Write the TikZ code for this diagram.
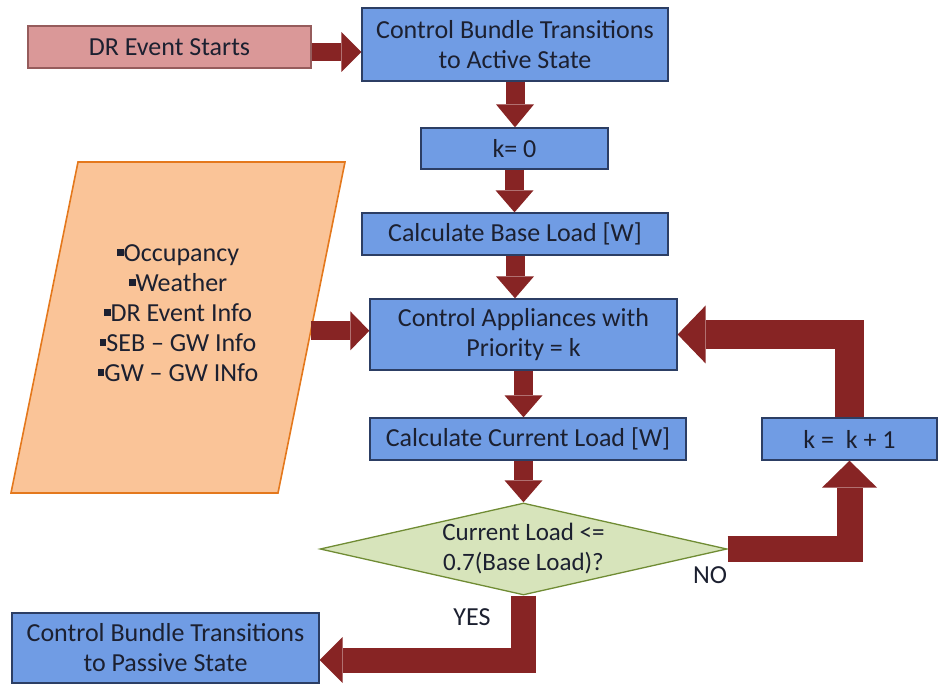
\documentclass[tikz,border=0pt]{standalone}
\usepackage{fontspec}
\setmainfont{Carlito}
\usetikzlibrary{arrows.meta,shapes.geometric,calc}

\definecolor{txt}{RGB}{28,32,48}
\definecolor{bluefill}{RGB}{112,156,228}
\definecolor{bluebd}{RGB}{44,62,100}
\definecolor{pinkfill}{RGB}{218,152,152}
\definecolor{pinkbd}{RGB}{150,92,92}
\definecolor{orangefill}{RGB}{250,196,152}
\definecolor{orangebd}{RGB}{228,120,28}
\definecolor{greenfill}{RGB}{215,228,187}
\definecolor{greenbd}{RGB}{112,140,52}
\definecolor{arrowred}{RGB}{135,36,36}

% small black square used as list bullet
\newcommand\sqbul{\rule[0.2em]{0.26em}{0.26em}}

\begin{document}
\begin{tikzpicture}[x=1pt,y=-1pt,
  font=\fontsize{26}{30}\selectfont, text=txt,
  flowbox/.style={draw=bluebd, fill=bluefill, line width=1.3pt,
    inner sep=0pt, align=center},
  blkarrow/.style n args={3}{draw=arrowred, line width=#1, line join=miter,
    -{Triangle[width=#2,length=#3,line width=0pt]}}]

\useasboundingbox (0,0) rectangle (938,684);

% process boxes
\node[flowbox, draw=pinkbd, fill=pinkfill, minimum width=283pt, minimum height=42pt]
  (dr) at (169.5,47) {DR Event Starts};
\node[flowbox, minimum width=306pt, minimum height=73pt]
  (active) at (515,44.5) {Control Bundle Transitions\\to Active State};
\node[flowbox, minimum width=187pt, minimum height=41pt]
  (k0) at (514.5,148.5) {k= 0};
\node[flowbox, minimum width=306pt, minimum height=42pt]
  (base) at (515,234) {Calculate Base Load [W]};
\node[flowbox, minimum width=307pt, minimum height=71pt]
  (ctrl) at (523.5,334.5) {Control Appliances with\\Priority = k};
\node[flowbox, minimum width=316pt, minimum height=42pt]
  (cur) at (528,439) {Calculate Current Load [W]};
\node[flowbox, minimum width=175pt, minimum height=42pt]
  (kk) at (849.5,439) {k =\ \ k + 1};
\node[flowbox, minimum width=307pt, minimum height=70pt]
  (passive) at (165.5,648) {Control Bundle Transitions\\to Passive State};

% decision
\node[diamond, draw=greenbd, fill=greenfill, line width=1.3pt, inner sep=0pt,
  minimum width=407pt, minimum height=92pt] (dia) at (523.5,549) {};
\node[align=center, font=\fontsize{25}{30}\selectfont] (diatext) at (dia.center)
  {Current Load <=\\0.7(Base Load)?};

% input data parallelogram
\coordinate (ptl) at (78,162);
\coordinate (ptr) at (345,162);
\coordinate (pbr) at (278,493);
\coordinate (pbl) at (11,493);
\draw[draw=orangebd, fill=orangefill, line width=1.6pt, line join=miter]
  (ptl) -- (ptr) -- (pbr) -- (pbl) -- cycle;
\node[align=center] (inputs) at (178,313)
  {\sqbul Occupancy\\\sqbul Weather\\\sqbul DR Event Info\\
   \sqbul SEB -- GW Info\\\sqbul GW -- GW INfo};
\coordinate (pout) at ($(ptr)!0.51!(pbr)$);

% block arrows
\draw[blkarrow={18pt}{40pt}{20pt}] ([yshift=-5pt]dr.east) -- ([yshift=-5pt]dr.east -| active.west);
\draw[blkarrow={19pt}{38pt}{23pt}] (active.south) -- (active.south |- k0.north);
\draw[blkarrow={19pt}{38pt}{22pt}] (k0.south) -- (k0.south |- base.north);
\draw[blkarrow={19pt}{38pt}{22pt}] (base.south) -- (base.south |- ctrl.north);
\draw[blkarrow={19pt}{38pt}{22pt}] (ctrl.south) -- (ctrl.south |- cur.north);
\draw[blkarrow={19pt}{38pt}{22pt}] (dia.north |- cur.south) -- (dia.north);
\draw[blkarrow={19pt}{39pt}{19pt}] (pout) -- (pout -| ctrl.west);
\draw[blkarrow={26pt}{55pt}{27pt}] (dia.east) -- (dia.east -| kk.south) -- (kk.south);
\draw[blkarrow={29pt}{58pt}{28pt}] (kk.north) -- (kk.north |- ctrl.east) -- (ctrl.east);
\draw[blkarrow={25pt}{46pt}{23pt}] (dia.south) -- ($(dia.south |- passive.east)+(0,12)$)
  -- ($(passive.east)+(0,12)$);

% branch labels
\node (nolabel) at (710,575) {NO};
\node (yeslabel) at (472,617) {YES};
\end{tikzpicture}
\end{document}
